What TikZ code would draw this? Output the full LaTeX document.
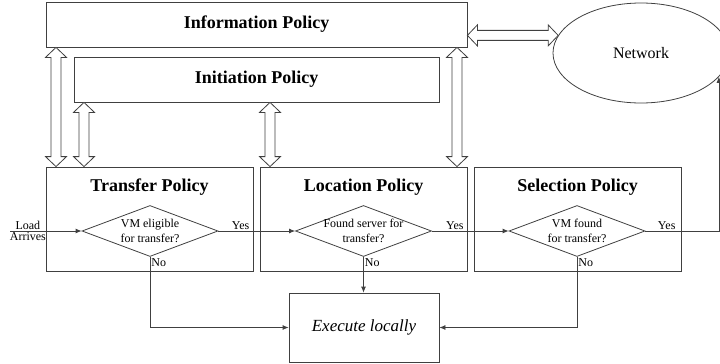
\documentclass[tikz,border=0pt]{standalone}
\usepackage{fontspec}
\setmainfont{Liberation Serif}
\usetikzlibrary{shapes.geometric,calc,arrows.meta}
\begin{document}
\begin{tikzpicture}[x=1pt,y=-1pt,
 line/.style={draw=black!75, line width=0.8pt},
 box/.style={line, rectangle, inner sep=0pt},
 title/.style={font=\fontsize{18}{20}\selectfont\bfseries, inner sep=0pt},
 small/.style={font=\fontsize{12}{15}\selectfont, inner sep=1pt},
 dia/.style={line, diamond, minimum width=136pt, minimum height=51pt, inner sep=0pt},
 arr/.style={line, -{Latex[length=6pt,width=5pt]}},
 dbl/.style={line, fill=white, to path={
   let \p1=(\tikztostart), \p2=(\tikztotarget), \n1={atan2(\y2-\y1,\x2-\x1)} in
   (\p1) -- ($(\p1)+(\n1:10pt)+(\n1+90:10.5pt)$) -- ($(\p1)+(\n1:10pt)+(\n1+90:5pt)$)
   -- ($(\p2)+(\n1:-10pt)+(\n1+90:5pt)$) -- ($(\p2)+(\n1:-10pt)+(\n1+90:10.5pt)$)
   -- (\p2) -- ($(\p2)+(\n1:-10pt)+(\n1-90:10.5pt)$) -- ($(\p2)+(\n1:-10pt)+(\n1-90:5pt)$)
   -- ($(\p1)+(\n1:10pt)+(\n1-90:5pt)$) -- ($(\p1)+(\n1:10pt)+(\n1-90:10.5pt)$) -- cycle}},
]
\useasboundingbox (0,0) rectangle (720,364);

% top boxes
\node[box, title, minimum width=421pt, minimum height=45pt] (info) at (256.5,24.5) {Information Policy};
\node[box, title, minimum width=365pt, minimum height=45pt] (init) at (256.5,79.5) {Initiation Policy};
\node[line, ellipse, minimum width=176pt, minimum height=100pt, inner sep=0pt,
      font=\fontsize{16}{18}\selectfont] (net) at (641,53) {Network};

% policy boxes
\node[box, minimum width=207pt, minimum height=104pt] (tp) at (149.5,219) {};
\node[box, minimum width=207pt, minimum height=104pt] (lp) at (363.5,219) {};
\node[box, minimum width=207pt, minimum height=104pt] (sp) at (577.5,219) {};
\node[title] (tpt) at (149.5,187) {Transfer Policy};
\node[title] (lpt) at (363.5,187) {Location Policy};
\node[title] (spt) at (577.5,187) {Selection Policy};

% diamonds
\node[dia] (tdia) at (150,231) {};
\node[dia] (ldia) at (363.5,231) {};
\node[dia] (sdia) at (577,231) {};
\node[small, align=center] (tdt) at (tdia.center) {VM eligible\\for transfer?};
\node[small, align=center] (ldt) at (ldia.center) {Found server for\\transfer?};
\node[small, align=center] (sdt) at (sdia.center) {VM found\\for transfer?};

% execute locally
\node[box, minimum width=150pt, minimum height=69pt, font=\fontsize{17}{20}\selectfont\itshape] (ex) at (364,327.5) {Execute locally};

% double arrows
\coordinate (a1) at (56,0);
\coordinate (a2) at (84,0);
\coordinate (a3) at (270,0);
\coordinate (a4) at (457,0);
\path[dbl] (info.south -| a1) to (tp.north -| a1);
\path[dbl] (init.south -| a2) to (tp.north -| a2);
\path[dbl] (init.south -| a3) to (lp.north -| a3);
\path[dbl] (info.south -| a4) to (lp.north -| a4);
\path[dbl] (info.east |- net.168) to (net.168);

% flow
\coordinate (load) at (10,231);
\draw[arr] (load) -- node[small, pos=.25, above]{Load} node[small, pos=.25, below]{Arrives} (tdia.west);
\draw[arr] (tdia.east) -- node[small, pos=.29, anchor=south]{Yes} (ldia.west);
\draw[arr] (ldia.east) -- node[small, pos=.30, anchor=south]{Yes} (sdia.west);
\draw[arr] (sdia.east) -- node[small, pos=.29, anchor=south]{Yes} (sdia.east -| net.-17.3) -- (net.-17.3);
\draw[arr] (tdia.south) node[small, anchor=north west]{No} |- (ex.west);
\draw[arr] (ldia.south) node[small, anchor=north west]{No} -- (ldia.south |- ex.north);
\draw[arr] (sdia.south) node[small, anchor=north west]{No} |- (ex.east);
\end{tikzpicture}
\end{document}
